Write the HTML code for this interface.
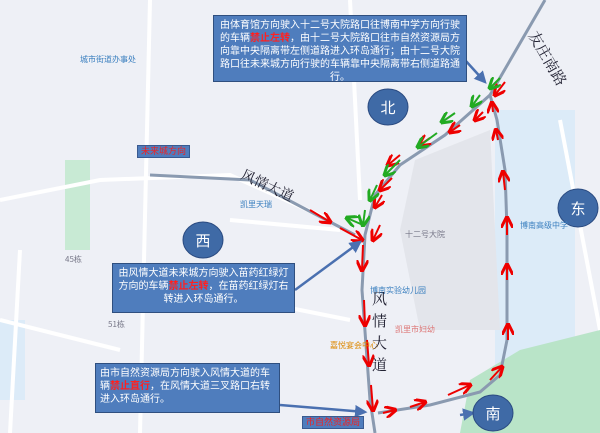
<!DOCTYPE html><html><head><meta charset="utf-8"><style>
body{margin:0;width:600px;height:433px;overflow:hidden;background:#eef0f6;font-family:"Liberation Sans","Noto Sans CJK SC",sans-serif}
.box{position:absolute;background:#4f7dbd;border:1px solid #2f4f7f;color:#fff;font-size:10px;line-height:13px;text-align:center;padding:3px 4px;box-sizing:border-box}
.box b{color:#ff2020;font-weight:bold}
.lab{position:absolute;border:1px solid #3a5a90;background:#4f7dbd;color:#e22;font-size:9px;line-height:11px;padding:0 3px}
.t{position:absolute;color:#223;font-family:"Noto Serif CJK SC",serif}
</style></head><body>
<svg width="600" height="433" style="position:absolute;left:0;top:0">
<defs>
<marker id="r" markerWidth="6" markerHeight="6" refX="5" refY="3" orient="auto"><path d="M0,0L6,3L0,6" fill="none" stroke="#e00" stroke-width="1.5"/></marker>
<marker id="g" markerWidth="6" markerHeight="6" refX="5" refY="3" orient="auto"><path d="M0,0L6,3L0,6" fill="none" stroke="#2a2" stroke-width="1.5"/></marker>
<marker id="b" markerWidth="5" markerHeight="5" refX="4" refY="2.5" orient="auto"><path d="M0,0L5,2.5L0,5Z" fill="#4a70b0"/></marker>
</defs>
<rect x="495" y="110" width="80" height="260" fill="#dcebf8"/>
<rect x="0" y="320" width="25" height="80" fill="#dcebf8"/>
<path d="M470,380L520,350L600,330V433H460Z" fill="#b9e4c8"/>
<rect x="65" y="160" width="25" height="90" fill="#c8ead4"/>
<path d="M415,160L490,130L500,330L420,330L400,230Z" fill="#e3e5eb"/>
<g stroke="#fff" stroke-width="4" fill="none">
<path d="M0,200L100,180L230,175L330,220"/><path d="M150,0L140,433"/><path d="M20,250L10,433"/>
<path d="M230,220L340,230"/><path d="M250,300L350,320"/><path d="M560,120L600,330"/>
<path d="M350,0L360,200"/><path d="M0,320L120,350"/>
</g>
<g stroke="#8a9ab0" stroke-width="3" fill="none">
<path d="M545,0L490,95L445,135L400,165L375,195L365,235L362,290L370,400L375,433"/>
<path d="M490,95L497,120L505,170L507,230L507,340L500,375L480,392L430,405L378,413"/>
<path d="M150,175L250,180L355,235"/>
</g>
<g stroke="#e00" stroke-width="2" marker-end="url(#r)">
<line x1="505" y1="82" x2="495" y2="95"/><line x1="483" y1="112" x2="475" y2="120"/>
<line x1="460" y1="125" x2="450" y2="132"/><line x1="430" y1="138" x2="420" y2="145"/>
<line x1="400" y1="155" x2="388" y2="165"/><line x1="392" y1="178" x2="380" y2="190"/>
<line x1="382" y1="195" x2="375" y2="207"/><line x1="380" y1="225" x2="373" y2="240"/>
<line x1="363" y1="245" x2="362" y2="270"/><line x1="364" y1="300" x2="365" y2="325"/>
<line x1="367" y1="340" x2="369" y2="365"/><line x1="371" y1="385" x2="373" y2="410"/>
<line x1="310" y1="210" x2="330" y2="222"/><line x1="340" y1="228" x2="362" y2="240"/>
<line x1="383" y1="413" x2="395" y2="410"/><line x1="410" y1="407" x2="425" y2="402"/>
<line x1="448" y1="395" x2="470" y2="385"/><line x1="490" y1="380" x2="502" y2="367"/>
<line x1="508" y1="340" x2="508" y2="325"/><line x1="507" y1="280" x2="507" y2="265"/>
<line x1="507" y1="235" x2="507" y2="218"/><line x1="505" y1="190" x2="503" y2="172"/>
<line x1="498" y1="140" x2="496" y2="130"/><line x1="493" y1="112" x2="492" y2="103"/>
</g>
<g stroke="#2a2" stroke-width="2" marker-end="url(#g)">
<line x1="500" y1="78" x2="490" y2="88"/><line x1="480" y1="95" x2="472" y2="106"/>
<line x1="455" y1="113" x2="442" y2="122"/><line x1="437" y1="133" x2="418" y2="147"/>
<line x1="400" y1="160" x2="385" y2="175"/><line x1="377" y1="185" x2="370" y2="200"/>
<line x1="365" y1="210" x2="363" y2="225"/><line x1="363" y1="225" x2="347" y2="218"/>
</g>
<g stroke="#4a70b0" stroke-width="2.5" marker-end="url(#b)">
<line x1="465" y1="60" x2="485" y2="82"/><line x1="295" y1="290" x2="360" y2="242"/>
<line x1="280" y1="405" x2="365" y2="412"/><line x1="460" y1="415" x2="473" y2="413"/>
</g>
<g fill="#3f6aa6" stroke="#2a4a80">
<ellipse cx="388" cy="107" rx="20" ry="18"/><ellipse cx="203" cy="240" rx="20" ry="18"/>
<ellipse cx="578" cy="208" rx="20" ry="19"/><ellipse cx="493" cy="413" rx="20" ry="18"/>
</g>
<g fill="#fff" font-size="15" text-anchor="middle" font-family="Noto Sans CJK SC">
<text x="388" y="113">北</text><text x="203" y="246">西</text><text x="578" y="214">东</text><text x="493" y="419">南</text>
</g>
<g font-size="8" fill="#778" font-family="Noto Sans CJK SC">
<text x="405" y="237">十二号大院</text><text x="520" y="228" fill="#3a7fbf">博南高级中学</text>
<text x="80" y="62" fill="#3a7fbf">城市街道办事处</text><text x="65" y="262">45栋</text><text x="108" y="327">51栋</text>
<text x="395" y="332" fill="#d77">凯里市妇幼</text><text x="370" y="293" fill="#3a7fbf">博南实验幼儿园</text>
<text x="330" y="348" fill="#d80">嘉悦宴会中心</text><text x="240" y="207" fill="#3a7fbf">凯里天瑞</text>
</g>
<text x="528" y="35" font-size="15" fill="#223" font-family="Noto Serif CJK SC" transform="rotate(60 528 35)">友庄南路</text>
<text x="240" y="178" font-size="14" fill="#223" font-family="Noto Serif CJK SC" transform="rotate(25 240 178)">风情大道</text>
</svg>
<div class="t" style="left:372px;top:288px;width:16px;font-size:15px;line-height:22px">风情大道</div>
<div class="box" style="left:213px;top:15px;width:254px;height:67px">由体育馆方向驶入十二号大院路口往博南中学方向行驶的车辆<b>禁止左转</b>，由十二号大院路口往市自然资源局方向靠中央隔离带左侧道路进入环岛通行；由十二号大院路口往未来城方向行驶的车辆靠中央隔离带右侧道路通行。</div>
<div class="box" style="left:112px;top:263px;width:183px;height:50px">由风情大道未来城方向驶入苗药红绿灯方向的车辆<b>禁止左转</b>，在苗药红绿灯右转进入环岛通行。</div>
<div class="box" style="left:95px;top:363px;width:185px;height:50px;text-align:left">由市自然资源局方向驶入风情大道的车辆<b>禁止直行</b>，在风情大道三叉路口右转进入环岛通行。</div>
<div class="lab" style="left:137px;top:145px">未来城方向</div>
<div class="lab" style="left:302px;top:416px">市自然资源局</div>
</body></html>
